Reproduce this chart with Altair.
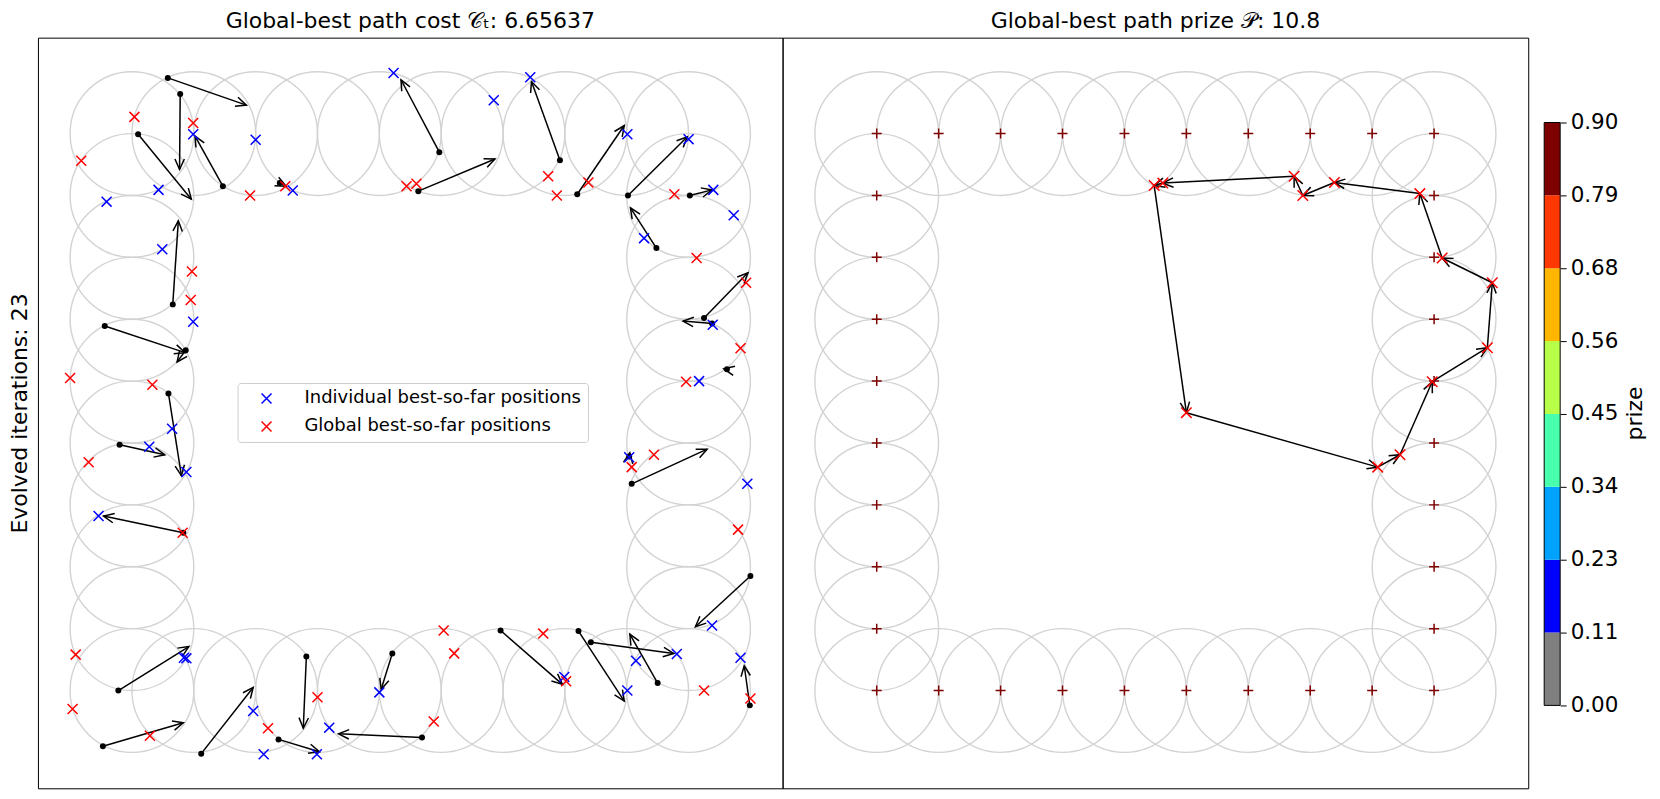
import json
import pandas as pd
import altair as alt

FONT = "DejaVu Sans"

# ---------------- data ----------------
# ring of target nodes (circle centres)
node_x = [0, 1, 2, 3, 4, 5, 6, 7, 8, 9,
          9, 9, 9, 9, 9, 9, 9, 9,
          9, 8, 7, 6, 5, 4, 3, 2, 1, 0,
          0, 0, 0, 0, 0, 0, 0, 0]
node_y = [9, 9, 9, 9, 9, 9, 9, 9, 9, 9,
          8, 7, 6, 5, 4, 3, 2, 1,
          0, 0, 0, 0, 0, 0, 0, 0, 0, 0,
          1, 2, 3, 4, 5, 6, 7, 8]
node_prize = [0.9, 0.9, 0.9, 0.9, 0.9, 0.9, 0.9, 0.9, 0.9, 0.9,
              0.9, 0.9, 0.9, 0.9, 0.9, 0.9, 0.9, 0.9,
              0.9, 0.9, 0.9, 0.9, 0.9, 0.9, 0.9, 0.9, 0.9, 0.9,
              0.9, 0.9, 0.9, 0.9, 0.9, 0.9, 0.9, 0.9]

# particles: current position (dot) -> velocity arrow tip
part_x0 = [0.58, 0.78, 0.10, 1.47, 2.39, 0.66, -0.44, 0.87, 0.59,
           4.97, 4.63, 6.92, 7.20, 8.02, 9.02, 8.48, 9.25, 9.38, 9.62,
           -0.20, 0.83, -0.22, -0.47, 1.12, 2.82, 2.37, 4.21, 4.69,
           8.04, 8.08, 10.00, 5.96, 7.22, 7.42, 8.50, 9.99]
part_y0 = [9.90, 9.64, 8.99, 8.15, 8.20, 6.24, 5.89, 5.50, 4.80,
           8.70, 8.07, 8.57, 8.02, 8.00, 8.00, 7.15, 6.02, 5.93, 5.19,
           3.97, 2.55, 0.00, -0.90, -1.02, 0.55, -0.79, 0.60, -0.76,
           3.78, 3.34, 1.85, 0.97, 0.96, 0.78, 0.12, -0.24]
part_x1 = [1.85, 0.77, 0.96, 1.02, 2.49, 0.75, 0.86, 0.73, 0.80,
           4.35, 5.87, 6.46, 7.96, 8.98, 9.38, 8.06, 9.96, 8.91, 9.57,
           0.53, -0.46, 0.92, 0.83, 1.96, 2.77, 3.03, 4.03, 3.34,
           8.05, 9.30, 9.11, 6.96, 7.96, 8.76, 8.05, 9.90]
part_y1 = [9.46, 8.42, 7.94, 8.96, 8.15, 7.59, 5.46, 5.31, 3.47,
           9.87, 8.59, 9.84, 9.13, 8.95, 8.09, 7.80, 6.75, 5.97, 5.20,
           3.81, 2.82, 0.71, -0.52, 0.05, -0.61, -0.99, 0.02, -0.70,
           3.84, 3.90, 1.03, 0.10, -0.17, 0.60, 0.91, 0.40]

# individual best-so-far positions (blue)
pbest_x = [4.23, 0.99, 2.00, 0.43, -0.41, 0.49, 0.99, 2.60,
           6.44, 5.85, 8.01, 9.00, 9.40, 9.73, 8.28, 9.39, 9.17,
           0.65, 0.28, 0.88, -0.54, 0.84, 0.88, 1.96, 2.13, 2.99, 3.19, 4.00,
           8.04, 9.95, 9.38, 8.81, 8.15, 9.84, 6.99, 8.01]
pbest_y = [9.98, 8.99, 8.90, 8.09, 7.90, 7.13, 5.96, 8.08,
           9.91, 9.54, 8.99, 8.91, 8.09, 7.68, 7.31, 5.91, 5.00,
           4.23, 3.94, 3.53, 2.82, 0.53, 0.52, -0.33, -1.03, -1.03, -0.60, -0.03,
           3.77, 3.34, 1.05, 0.59, 0.48, 0.53, 0.22, 0.00]

# global best-so-far positions (red)
gbest_x = [0.04, -0.82, 0.99, 1.91, 2.48, 4.44, 0.97, 0.95, -1.00, 0.33,
           4.60, 6.73, 6.87, 7.38, 8.77, 9.13, 9.93, 9.84, 8.96,
           -0.70, 0.82, -0.91, -0.96, 0.29, 2.20, 3.00,
           8.44, 8.08, 9.80, 5.04, 5.21, 6.65, 7.02, 9.25, 10.00, 4.88]
gbest_y = [9.27, 8.56, 9.17, 8.00, 8.15, 8.15, 6.77, 6.31, 5.05, 4.94,
           8.19, 8.31, 8.00, 8.21, 8.02, 6.99, 6.59, 5.53, 4.99,
           3.69, 2.55, 0.58, -0.30, -0.73, -0.61, -0.11,
           3.81, 3.61, 2.60, 0.97, 0.60, 0.92, 0.15, 0.00, -0.13, -0.50]

# global-best path (closed loop)
path_x = [8.77, 7.39, 6.88, 6.74, 4.62, 4.48, 5.00, 8.09, 8.45, 8.97, 9.86, 9.94, 9.13, 8.77]
path_y = [8.03, 8.21, 8.00, 8.31, 8.20, 8.16, 4.49, 3.61, 3.81, 4.99, 5.54, 6.59, 6.99, 8.03]

# colour bar
cb_edges = [0.0, 0.1125, 0.225, 0.3375, 0.45, 0.5625, 0.675, 0.7875, 0.9]
cb_labels = ["0.00", "0.11", "0.23", "0.34", "0.45", "0.56", "0.68", "0.79", "0.90"]
cb_colors = ["#808080", "#0000ff", "#00a2ff", "#48ffae", "#b7ff48", "#ffb600", "#ff3700", "#7f0000"]

title_left = "Global-best path cost \U0001D49E\u209C: 6.65637"
title_right = "Global-best path prize \U0001D4AB: 10.8"
ylabel = "Evolved iterations: 23"
legend_labels = ["Individual best-so-far positions", "Global best-so-far positions"]

# ---------------- layout / style ----------------
W_L, W_R, H = 746, 747, 752
XDOM = [-1.52, 10.52]
YDOM = [-1.58, 10.55]
PXU = W_L / (XDOM[1] - XDOM[0])
CIRCLE_SIZE = (2 * PXU) ** 2
XPATH = "M-1,-1L1,1M-1,1L1,-1"
PLUS = "M-1,0L1,0M0,-1L0,1"
HEAD = "M-0.45,1L0,0L0.45,1"

xs = alt.Scale(domain=XDOM, nice=False, zero=False)
ys = alt.Scale(domain=YDOM, nice=False, zero=False)

left_axis = alt.Axis(title=ylabel, labels=False, ticks=False, domain=False, grid=False,
                     titleFontSize=22, titleFont=FONT, titleFontWeight="normal",
                     titleColor="black", titlePadding=6)

nodes = pd.DataFrame({"x": node_x, "y": node_y, "prize": node_prize})
parts = pd.DataFrame({"x0": part_x0, "y0": part_y0, "x1": part_x1, "y1": part_y1})
bests = pd.DataFrame({
    "x": pbest_x + gbest_x,
    "y": pbest_y + gbest_y,
    "kind": [legend_labels[0]] * len(pbest_x) + [legend_labels[1]] * len(gbest_x),
})
segs = pd.DataFrame({"x0": path_x[:-1], "y0": path_y[:-1], "x1": path_x[1:], "y1": path_y[1:]})
pnodes = pd.DataFrame({"x": path_x[:-1], "y": path_y[:-1]})

ANG = "(atan2(datum.x1 - datum.x0, datum.y1 - datum.y0) * 180 / PI + 360) % 360"


def panel_layers(yaxis):
    def X(f):
        return alt.X(f"{f}:Q", scale=xs, axis=None)

    def Y(f):
        return alt.Y(f"{f}:Q", scale=ys, axis=yaxis)

    circles = alt.Chart(nodes).mark_point(
        shape="circle", size=CIRCLE_SIZE, filled=False, color="#d3d3d3",
        strokeWidth=1.4, opacity=1
    ).encode(x=X("x"), y=Y("y"))
    return X, Y, circles


def arrows(df, X, Y):
    lines = alt.Chart(df).mark_rule(color="black", strokeWidth=1.5).encode(
        x=X("x0"), y=Y("y0"), x2="x1:Q", y2="y1:Q")
    heads = alt.Chart(df).transform_calculate(ang=ANG).mark_point(
        shape=HEAD, filled=False, color="black", size=440, strokeWidth=1.5, opacity=1
    ).encode(x=X("x1"), y=Y("y1"), angle=alt.Angle("ang:Q", scale=None))
    return lines, heads


# ---- left panel ----
XL, YL, circ_l = panel_layers(left_axis)
lines_l, heads_l = arrows(parts, XL, YL)
dots_l = alt.Chart(parts).mark_circle(color="black", size=36, opacity=1).encode(
    x=XL("x0"), y=YL("y0"))
marks_l = alt.Chart(bests).mark_point(
    shape=XPATH, filled=False, size=100, strokeWidth=1.5, opacity=1
).encode(
    x=XL("x"), y=YL("y"),
    color=alt.Color("kind:N",
                    scale=alt.Scale(domain=legend_labels, range=["#0000ff", "#ff0000"]),
                    sort=legend_labels,
                    legend=alt.Legend(
                        orient="none", legendX=200, legendY=346, title=None,
                        labelFontSize=18, labelFont=FONT, labelColor="black",
                        labelLimit=600,
                        symbolType=XPATH, symbolSize=100, symbolStrokeWidth=1.5,
                        fillColor="rgba(255,255,255,0.85)", strokeColor="#cccccc",
                        cornerRadius=3, padding=6.5, rowPadding=10,
                        symbolOffset=13.5, labelOffset=29)))
left = alt.layer(circ_l, lines_l, heads_l, dots_l, marks_l).properties(
    width=W_L, height=H,
    title=alt.TitleParams(title_left, fontSize=22, font=FONT, fontWeight="normal",
                          color="black", anchor="middle", frame="group", offset=5))

# ---- right panel ----
XR, YR, circ_r = panel_layers(None)
plus_r = alt.Chart(nodes).mark_point(
    shape=PLUS, filled=False, size=100, strokeWidth=1.5, opacity=1
).encode(
    x=XR("x"), y=YR("y"),
    color=alt.Color("prize:Q",
                    scale=alt.Scale(type="threshold", domain=cb_edges[1:-1], range=cb_colors),
                    legend=None))
lines_r, heads_r = arrows(segs, XR, YR)
marks_r = alt.Chart(pnodes).mark_point(
    shape=XPATH, filled=False, size=110, strokeWidth=1.5, opacity=1, color="#ff0000"
).encode(x=XR("x"), y=YR("y"))
right = alt.layer(circ_r, plus_r, lines_r, heads_r, marks_r).properties(
    width=W_R, height=H,
    title=alt.TitleParams(title_right, fontSize=22, font=FONT, fontWeight="normal",
                          color="black", anchor="middle", frame="group", offset=5))

# ---- colour bar ----
cb_df = pd.DataFrame({"lo": cb_edges[:-1], "hi": cb_edges[1:], "col": cb_colors})
frame_df = pd.DataFrame({"lo": [cb_edges[0]], "hi": [cb_edges[-1]]})
ys_cb = alt.Scale(domain=[-0.128, 1.031], nice=False, zero=False)
cb_axis = alt.Axis(
    orient="right", values=cb_edges,
    labelExpr=f"{json.dumps(cb_labels)}[indexof({json.dumps(cb_edges)}, datum.value)]",
    tickSize=6, tickColor="black", tickWidth=1, domain=False, grid=False,
    labelFontSize=21.5, labelFont=FONT, labelColor="black", labelPadding=4,
    title="prize", titleFontSize=22, titleFont=FONT, titleFontWeight="normal",
    titleAngle=270, titleBaseline="top", titlePadding=7, titleColor="black")
bars = alt.Chart(cb_df).mark_rect().encode(
    y=alt.Y("lo:Q", scale=ys_cb, axis=cb_axis), y2="hi:Q",
    x=alt.value(16), x2=alt.value(32),
    color=alt.Color("col:N", scale=None))
cb_frame = alt.Chart(frame_df).mark_rect(fillOpacity=0, stroke="black", strokeWidth=1).encode(
    y=alt.Y("lo:Q", scale=ys_cb, axis=cb_axis), y2="hi:Q",
    x=alt.value(16), x2=alt.value(32))
cbar = alt.layer(bars, cb_frame).properties(
    width=32, height=H, view=alt.ViewBackground(stroke="transparent"))

chart = alt.hconcat(left, right, cbar, spacing=0, bounds="flush").properties(
    padding={"left": 0, "top": 0, "right": 5, "bottom": 5}
).configure(font=FONT).configure_view(stroke="black", strokeWidth=1)

chart.save("out.html", embed_options={"renderer": "svg", "actions": False})
